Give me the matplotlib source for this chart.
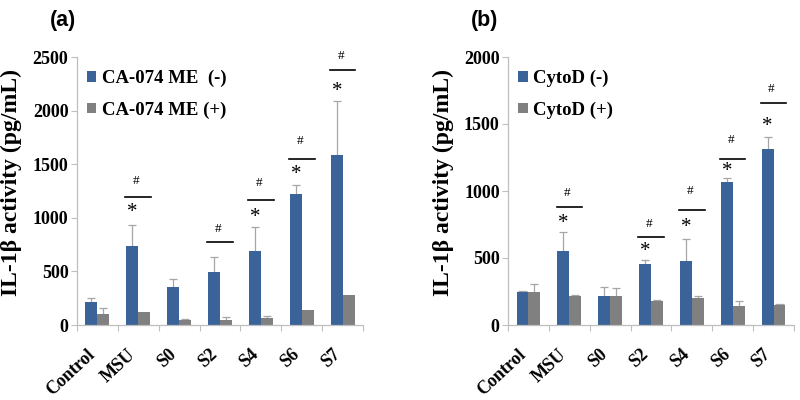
import matplotlib
matplotlib.use("Agg")
import matplotlib.pyplot as plt
import matplotlib.transforms as mtransforms
import numpy as np

categories = ["Control", "MSU", "S0", "S2", "S4", "S6", "S7"]

# Panel (a)
a_minus = [215, 740, 350, 490, 690, 1220, 1585]
a_minus_err = [40, 190, 75, 140, 220, 85, 500]
a_plus = [100, 125, 50, 50, 65, 140, 280]
a_plus_err = [55, 0, 10, 22, 20, 0, 0]
a_star = [None, 1045, None, None, 1007, 1408, 2174]
a_line = [None, 1194, None, 774, 1166, 1548, 2379]
a_hash = [None, 1340, None, 900, 1324, 1716, 2509]

# Panel (b)
b_minus = [250, 550, 220, 455, 480, 1065, 1310]
b_minus_err = [5, 145, 60, 30, 165, 30, 90]
b_plus = [250, 220, 220, 180, 200, 140, 150]
b_plus_err = [55, 5, 55, 10, 20, 40, 10]
b_star = [None, 761, None, 545, 724, 1142, 1485]
b_line = [None, 880, None, 657, 858, 1239, 1657]
b_hash = [None, 985, None, 754, 1000, 1380, 1761]

BLUE = "#3A6499"
GREY = "#808080"
AX = "#BFBFBF"
SERIF = "Liberation Serif"

fig = plt.figure(figsize=(8, 4), dpi=100)

def panel(rect, minus, minus_err, plus, plus_err, star, line, hsh,
          ymax, yticks, labels, tag, tagx):
    ax = fig.add_axes(rect)
    x = np.arange(len(categories)) + 0.5
    w = 0.29
    ax.bar(x - w / 2, minus, w, color=BLUE, label=labels[0], zorder=2)
    ax.bar(x + w / 2, plus, w, color=GREY, label=labels[1], zorder=2)
    for xs, v, e in [(x - w / 2, minus, minus_err), (x + w / 2, plus, plus_err)]:
        for xi, vi, ei in zip(xs, v, e):
            if ei > 0:
                ax.vlines(xi, vi, vi + ei, color="#A6A6A6", lw=0.9, zorder=1)
                ax.hlines(vi + ei, xi - 0.1, xi + 0.1, color="#A6A6A6", lw=0.9, zorder=1)
    for i in range(len(categories)):
        if star[i] is not None:
            ax.text(x[i] - w / 2, star[i], "*", ha="center", va="center",
                    fontsize=15, family=SERIF, clip_on=False)
        if line[i] is not None:
            ax.plot([x[i] - 0.31, x[i] + 0.31], [line[i], line[i]], color="black",
                    lw=1.2, clip_on=False)
        if hsh[i] is not None:
            ax.text(x[i] - 0.05, hsh[i], "#", ha="center", va="center",
                    fontsize=9.5, family=SERIF, clip_on=False)
    ax.set_xlim(0, len(categories))
    ax.set_ylim(0, ymax)
    ax.set_yticks(yticks)
    ax.set_yticklabels([str(t) for t in yticks], family=SERIF, fontweight="bold",
                       fontsize=13)
    ax.set_xticks(np.arange(len(categories) + 1))
    ax.set_xticklabels([])
    ax.set_xticks(x, minor=True)
    ax.set_xticklabels(categories, minor=True, rotation=43, ha="right",
                       rotation_mode="anchor", family=SERIF, fontweight="bold",
                       fontsize=13)
    ax.tick_params(axis="x", which="minor", length=0, pad=15)
    ax.tick_params(axis="x", which="major", length=4, color=AX, direction="out")
    ax.tick_params(axis="y", length=4, color=AX, direction="out", pad=2)
    off = mtransforms.ScaledTranslation(-11 / 100, 0, fig.dpi_scale_trans)
    for lab in ax.get_xticklabels(minor=True):
        lab.set_transform(lab.get_transform() + off)
    for s in ["top", "right"]:
        ax.spines[s].set_visible(False)
    for s in ["left", "bottom"]:
        ax.spines[s].set_color(AX)
        ax.spines[s].set_linewidth(0.9)
    ax.set_ylabel("IL-1β activity (pg/mL)", family=SERIF, fontweight="bold",
                  fontsize=17)
    ax.yaxis.set_label_coords(-0.19, 0.53)
    ax.legend(loc="upper left", bbox_to_anchor=(-0.01, 1.0), frameon=False,
              prop={"family": SERIF, "weight": "bold", "size": 13.5},
              handlelength=0.5, handleheight=0.5, handletextpad=0.3,
              labelspacing=0.75, borderaxespad=0.3)
    fig.text(tagx, 0.948, tag, family="Liberation Sans", fontweight="bold",
             fontsize=15.5, ha="left", va="center")
    return ax

panel([0.096, 0.1875, 0.358, 0.67], a_minus, a_minus_err, a_plus, a_plus_err,
      a_star, a_line, a_hash, 2500, [0, 500, 1000, 1500, 2000, 2500],
      ["CA-074 ME  (-)", "CA-074 ME (+)"], "(a)", 0.062)
panel([0.635, 0.1875, 0.3575, 0.67], b_minus, b_minus_err, b_plus, b_plus_err,
      b_star, b_line, b_hash, 2000, [0, 500, 1000, 1500, 2000],
      ["CytoD (-)", "CytoD (+)"], "(b)", 0.589)

fig.savefig("out.png", dpi=100)
